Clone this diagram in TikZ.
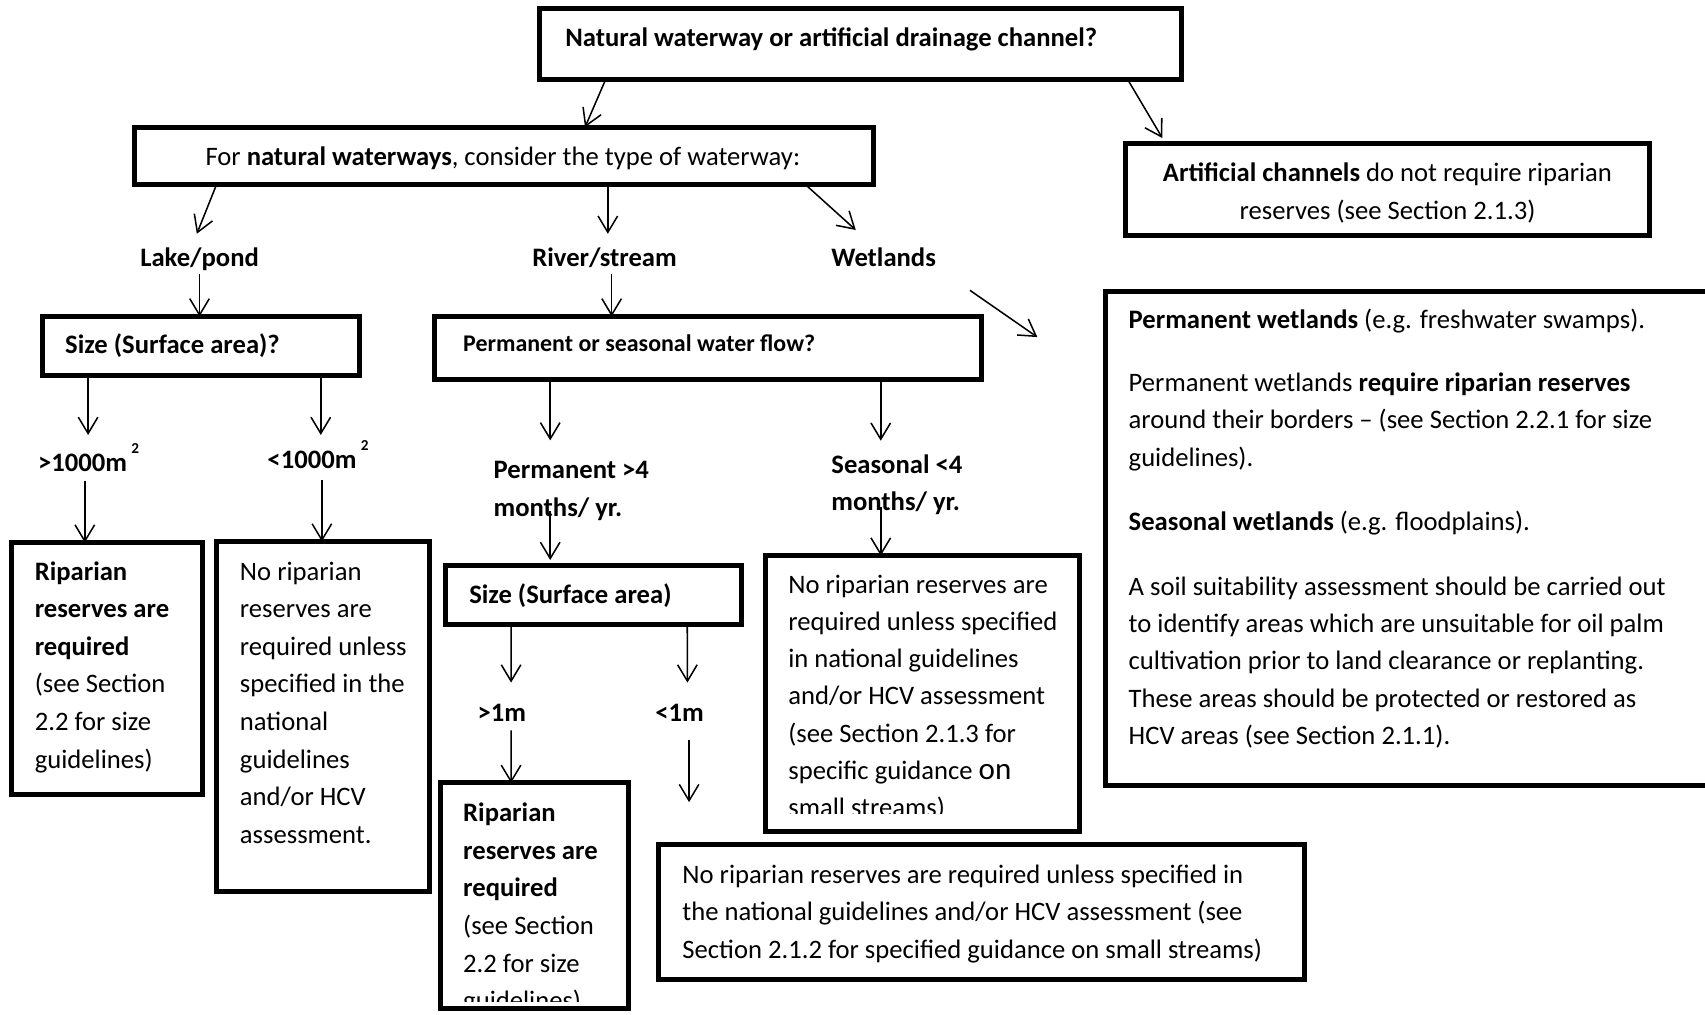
\documentclass[tikz,border=0pt]{standalone}
\usepackage{fontspec}
\setmainfont{Carlito}
\usetikzlibrary{arrows.meta,calc}
\begin{document}
\begin{tikzpicture}[x=0.5pt,y=-0.5pt,
 box/.style={draw, rectangle, line width=2.3pt, inner sep=0pt, outer sep=0pt, anchor=north west},
 txt/.style={anchor=base west, align=left, inner sep=0pt, outer sep=0pt, font=\fontsize{12.25}{17.2}\selectfont},
 btxt/.style={txt, font=\fontsize{12.25}{17.2}\selectfont\bfseries},
 lbl/.style={anchor=base, inner sep=0pt, outer sep=0pt, font=\fontsize{12.25}{17.2}\selectfont\bfseries},
 arr/.style={line width=0.7pt, -{Straight Barb[length=7.5pt,width=9pt]}}]
\path[fill=white] (0,0) rectangle (1568,933);
\useasboundingbox (0,0) rectangle (1568,933);

% boxes
\node[box, minimum width=295.5pt, minimum height=32.5pt] (top) at (496,8) {};
\node[box, minimum width=339.5pt, minimum height=26.5pt] (nat) at (124,117) {};
\node[box, minimum width=241pt, minimum height=42.5pt] (art) at (1035,132) {};
\node[box, minimum width=146pt, minimum height=27pt] (size1) at (39,291) {};
\node[box, minimum width=251.5pt, minimum height=29pt] (perm) at (400,291) {};
\node[box, minimum width=87.5pt, minimum height=116pt] (rip1) at (11,499) {};
\node[box, minimum width=98pt, minimum height=161pt] (norip1) at (199,498) {};
\node[box, minimum width=136pt, minimum height=27pt] (size2) at (410,520) {};
\node[box, minimum width=86.5pt, minimum height=103.5pt] (rip2) at (405,720) {};
\node[box, minimum width=144.5pt, minimum height=127pt] (seas) at (704,511) {};
\node[box, minimum width=280.5pt, minimum height=227pt] (wetbox) at (1017,268) {};
\node[box, minimum width=297pt, minimum height=62pt] (bottom) at (606,777) {};

% texts in boxes (base anchor of a multi-line node = last line)
\node[btxt] (ttop) at (520,43) {Natural waterway or artificial drainage channel?};
\node[txt] (tnat) at (189,152) {For \textbf{natural waterways}, consider the type of waterway:};
\node[txt, anchor=base, align=center] (tart) at (1276,201.4) {\textbf{Artificial channels} do not require riparian\\reserves (see Section 2.1.3)};
\node[btxt] (tsize1) at (60,325) {Size (Surface area)?};
\node[txt, font=\fontsize{11}{16}\selectfont\bfseries] (tperm) at (426,323.4) {Permanent or seasonal water flow?};
\node[btxt] (tsize2) at (431.6,554.8) {Size (Surface area)};
\node[txt, font=\fontsize{12.25}{17.3}\selectfont] (trip1) at (32,706.4) {\textbf{Riparian}\\\textbf{reserves are}\\\textbf{required}\\(see Section\\2.2 for size\\guidelines)};
\node[txt, font=\fontsize{12.25}{17.3}\selectfont] (tnorip1) at (220.7,775.6) {No riparian\\reserves are\\required unless\\specified in the\\national\\guidelines\\and/or HCV\\assessment.};
\begin{scope}
\clip (405,720) rectangle (578,921);
\node[txt, font=\fontsize{12.25}{17.3}\selectfont] (trip2) at (426,928.6) {\textbf{Riparian}\\\textbf{reserves are}\\\textbf{required}\\(see Section\\2.2 for size\\guidelines)};
\end{scope}
\begin{scope}
\clip (704,511) rectangle (993,748);
\node[txt, font=\fontsize{12.25}{17.1}\selectfont] (tseas) at (725,750.8) {No riparian reserves are\\required unless specified\\in national guidelines\\and/or HCV assessment\\(see Section 2.1.3 for\\specific guidance {\fontsize{14.3}{17.1}\selectfont on}\\small streams)};
\end{scope}
\node[txt] (tw1) at (1038,302) {\textbf{Permanent wetlands} (e.g. freshwater swamps).};
\node[txt] (tw2) at (1038,428.8) {Permanent wetlands \textbf{require riparian reserves}\\around their borders -- (see Section 2.2.1 for size\\guidelines).};
\node[txt] (tw3) at (1038,487.5) {\textbf{Seasonal wetlands} (e.g. floodplains).};
\node[txt] (tw4) at (1038,684.8) {A soil suitability assessment should be carried out\\to identify areas which are unsuitable for oil palm\\cultivation prior to land clearance or replanting.\\These areas should be protected or restored as\\HCV areas (see Section 2.1.1).};
\node[txt] (tbottom) at (627.6,881.1) {No riparian reserves are required unless specified in\\the national guidelines and/or HCV assessment (see\\Section 2.1.2 for specified guidance on small streams)};

% free labels
\node[lbl] (lake) at (183.5,245) {Lake/pond};
\node[lbl] (river) at (556,245) {River/stream};
\node[btxt] (wl) at (764.5,245) {Wetlands};
\node[btxt] (g1) at (35,434) {>1000m\,\raisebox{8.5pt}{\fontsize{7}{7}\selectfont 2}};
\node[btxt] (l1) at (246,431) {<1000m\,\raisebox{8.5pt}{\fontsize{7}{7}\selectfont 2}};
\node[btxt, font=\fontsize{12.25}{17.5}\selectfont\bfseries] (pl) at (454,475) {Permanent >4\\months/ yr.};
\node[btxt, font=\fontsize{12.25}{17}\selectfont\bfseries] (sl) at (764.6,469.3) {Seasonal <4\\months/ yr.};
\node[btxt] (gm) at (439.3,663.7) {>1m};
\node[btxt] (lm) at (602.7,663.7) {<1m};

% connectors
\draw[arr] ($(top.south west)+(61,0)$) -- ($(nat.north west)+(414,0)$);
\draw[arr] ($(top.south west)+(541,0)$) -- ($(art.north west)+(34,-5)$);
\draw[arr] ($(nat.south west)+(75,0)$) -- ($(lake.base)+(-2.5,-30)$);
\draw[arr] ($(nat.south west)+(435,0)$) -- ($(river.base)+(3,-30)$);
\draw[arr] ($(nat.south west)+(617,0)$) -- ($(wl.base west)+(22.5,-33.5)$);
\draw[arr] ($(lake.base)+(0,7)$) -- ($(size1.north west)+(144.5,0)$);
\draw[arr] ($(river.base)+(6.5,7)$) -- ($(perm.north west)+(162.5,0)$);
\draw[arr] ($(wl.base west)+(127.5,22)$) -- ($(wetbox.north west)+(-63,42)$);
\draw[arr] ($(size1.south west)+(42,0)$) -- ($(g1.base west)+(46,-34)$);
\draw[arr] ($(size1.south west)+(256,0)$) -- ($(l1.base west)+(49,-31)$);
\draw[arr] ($(g1.base west)+(43,8)$) -- ($(rip1.north west)+(67,0)$);
\draw[arr] ($(l1.base west)+(50,10)$) -- ($(norip1.north west)+(97,0)$);
\draw[arr] ($(perm.south west)+(106,0)$) -- ($(pl.base west)+(52,-70)$);
\draw[arr] ($(pl.base west)+(52,-5)$) -- ($(size2.north west)+(96,-5)$);
\draw[arr] ($(perm.south west)+(410,0)$) -- ($(sl.base west)+(45.4,-64)$);
\draw[arr] ($(sl.base west)+(45.4,-3)$) -- ($(seas.north west)+(106,0)$);
\draw[arr] ($(size2.south west)+(60,0)$) -- ($(gm.base west)+(30.7,-36)$);
\draw[arr] ($(size2.south west)+(222,0)$) -- ($(lm.base west)+(29.5,-36)$);
\draw[arr] ($(gm.base west)+(30.7,8)$) -- ($(rip2.north west)+(65,0)$);
\coordinate (lmend) at ($(lm.base west)+(31,74)$);
\draw[arr] ($(lm.base west)+(31,17)$) -- (lmend);
\end{tikzpicture}
\end{document}
